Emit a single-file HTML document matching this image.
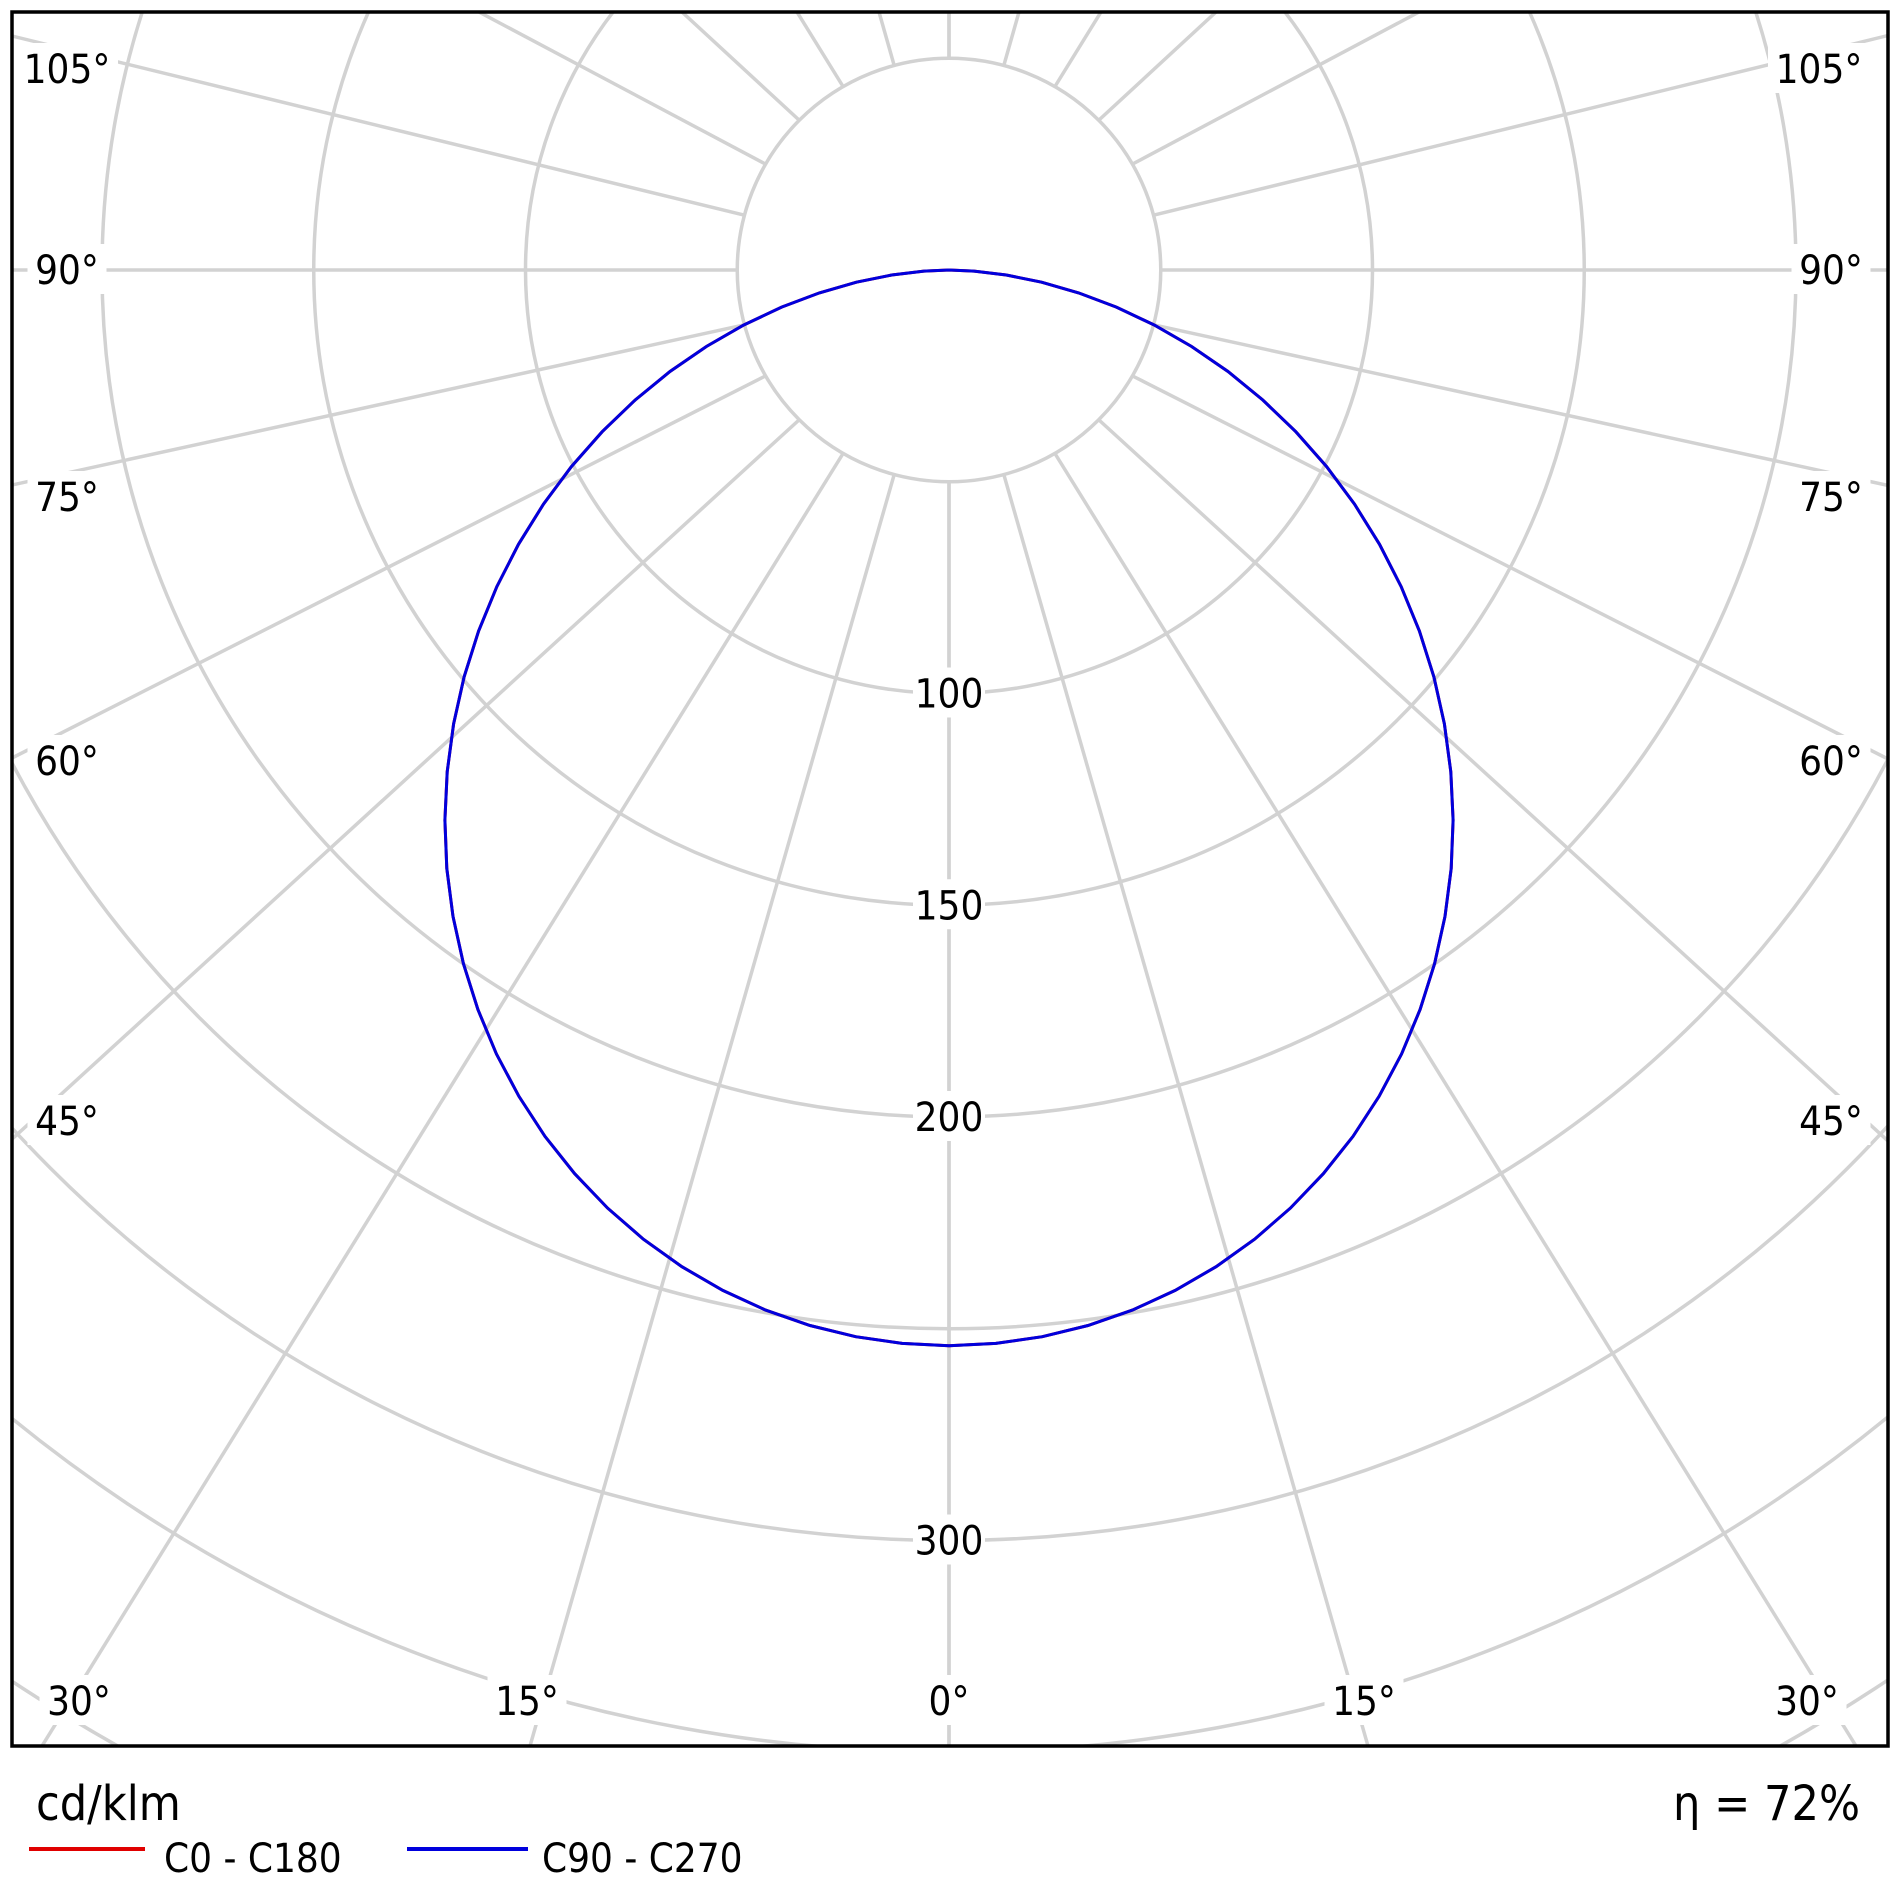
<!DOCTYPE html>
<html><head><meta charset="utf-8"><style>
html,body{margin:0;padding:0;background:#fff;width:1900px;height:1900px;overflow:hidden}
svg{display:block}
svg text{font-family:"DejaVu Sans Condensed","DejaVu Sans","Liberation Sans",sans-serif;fill:#000}
</style></head><body>
<svg id="s" width="1900" height="1900" viewBox="0 0 1900 1900" xmlns="http://www.w3.org/2000/svg">
<defs><clipPath id="c"><rect x="12" y="12" width="1876" height="1734"/></clipPath></defs>
<g id="grid" clip-path="url(#c)" stroke="#d2d2d2" stroke-width="3.5" fill="none"></g>
<g id="curve" clip-path="url(#c)"></g>
<g id="labels" font-size="40"></g>
<rect x="12" y="12" width="1876" height="1734" fill="none" stroke="#000" stroke-width="3.5"/>
<text x="36" y="1820" font-size="48">cd/klm</text>
<text x="1860" y="1820" font-size="48" text-anchor="end">η = 72%</text>
<line x1="29" y1="1849" x2="145" y2="1849" stroke="#e00000" stroke-width="4"/>
<text x="164" y="1872" font-size="40">C0 - C180</text>
<line x1="407" y1="1849" x2="528" y2="1849" stroke="#0000dd" stroke-width="4"/>
<text x="542" y="1872" font-size="40">C90 - C270</text>
</svg>
<script>
var NS="http://www.w3.org/2000/svg",cx=949,cy=270,k=4.235;
function el(p,t,a){var e=document.createElementNS(NS,t);for(var n in a)e.setAttribute(n,a[n]);p.appendChild(e);return e;}
var g=document.getElementById('grid'),L=document.getElementById('labels'),C=document.getElementById('curve');
for(var v=50;v<=450;v+=50)el(g,'circle',{cx:cx,cy:cy,r:v*k});
var rays=[[0,949,1750],[15,530,1746],[30,42,1746],[45,10,1141],[60,12,758],[75,12,485],[90,12,270],[105,12,36],[120,479,12],[135,682,12],[150,797,12],[165,879,12],[180,949,12]];
rays.forEach(function(r){var t=r[0]*Math.PI/180,R=50*k;
for(var s=-1;s<=1;s+=2){var x0=cx+s*R*Math.sin(t),y0=cy+R*Math.cos(t);
var fx=(s<0)?r[1]:(1898-r[1]),fy=r[2];
var dx=fx-x0,dy=fy-y0,l=Math.sqrt(dx*dx+dy*dy),e=3000/l;
el(g,'line',{x1:x0,y1:y0,x2:x0+dx*e,y2:y0+dy*e});}});
function lab(x,y,txt,w){el(L,'rect',{x:x-w/2,y:y-26,width:w,height:50,fill:'#fff'});var e=el(L,'text',{x:x,y:y+14,'text-anchor':'middle'});e.textContent=txt;}
[100,150,200,300].forEach(function(p){lab(cx,cy+p*k,String(p),72);});
var al=[[67,69,'105°'],[67,270,'90°'],[67,497,'75°'],[67,761,'60°'],[67,1121,'45°'],[79,1701,'30°'],[527,1701,'15°'],[949,1701,'0°']];
al.forEach(function(p){var w=p[2].length*23+10;lab(p[0],p[1],p[2],w);if(p[2]!='0°')lab(1898-p[0]+(p[2]=='30°'||p[2]=='105°'?-12:0)+(p[2]=='15°'?-7:0),p[1],p[2],w);});
var pts=[];for(var d=-90;d<=90;d+=2.5){var t=d*Math.PI/180,I=254*Math.pow(Math.max(Math.cos(t),0),1.2),r=I*k;pts.push((cx+r*Math.sin(t)).toFixed(1)+','+(cy+r*Math.cos(t)).toFixed(1));}
el(C,'polyline',{points:pts.join(' '),fill:'none',stroke:'#e00000','stroke-width':3});
el(C,'polyline',{points:pts.join(' '),fill:'none',stroke:'#0000dd','stroke-width':3});
</script>
</body></html>
